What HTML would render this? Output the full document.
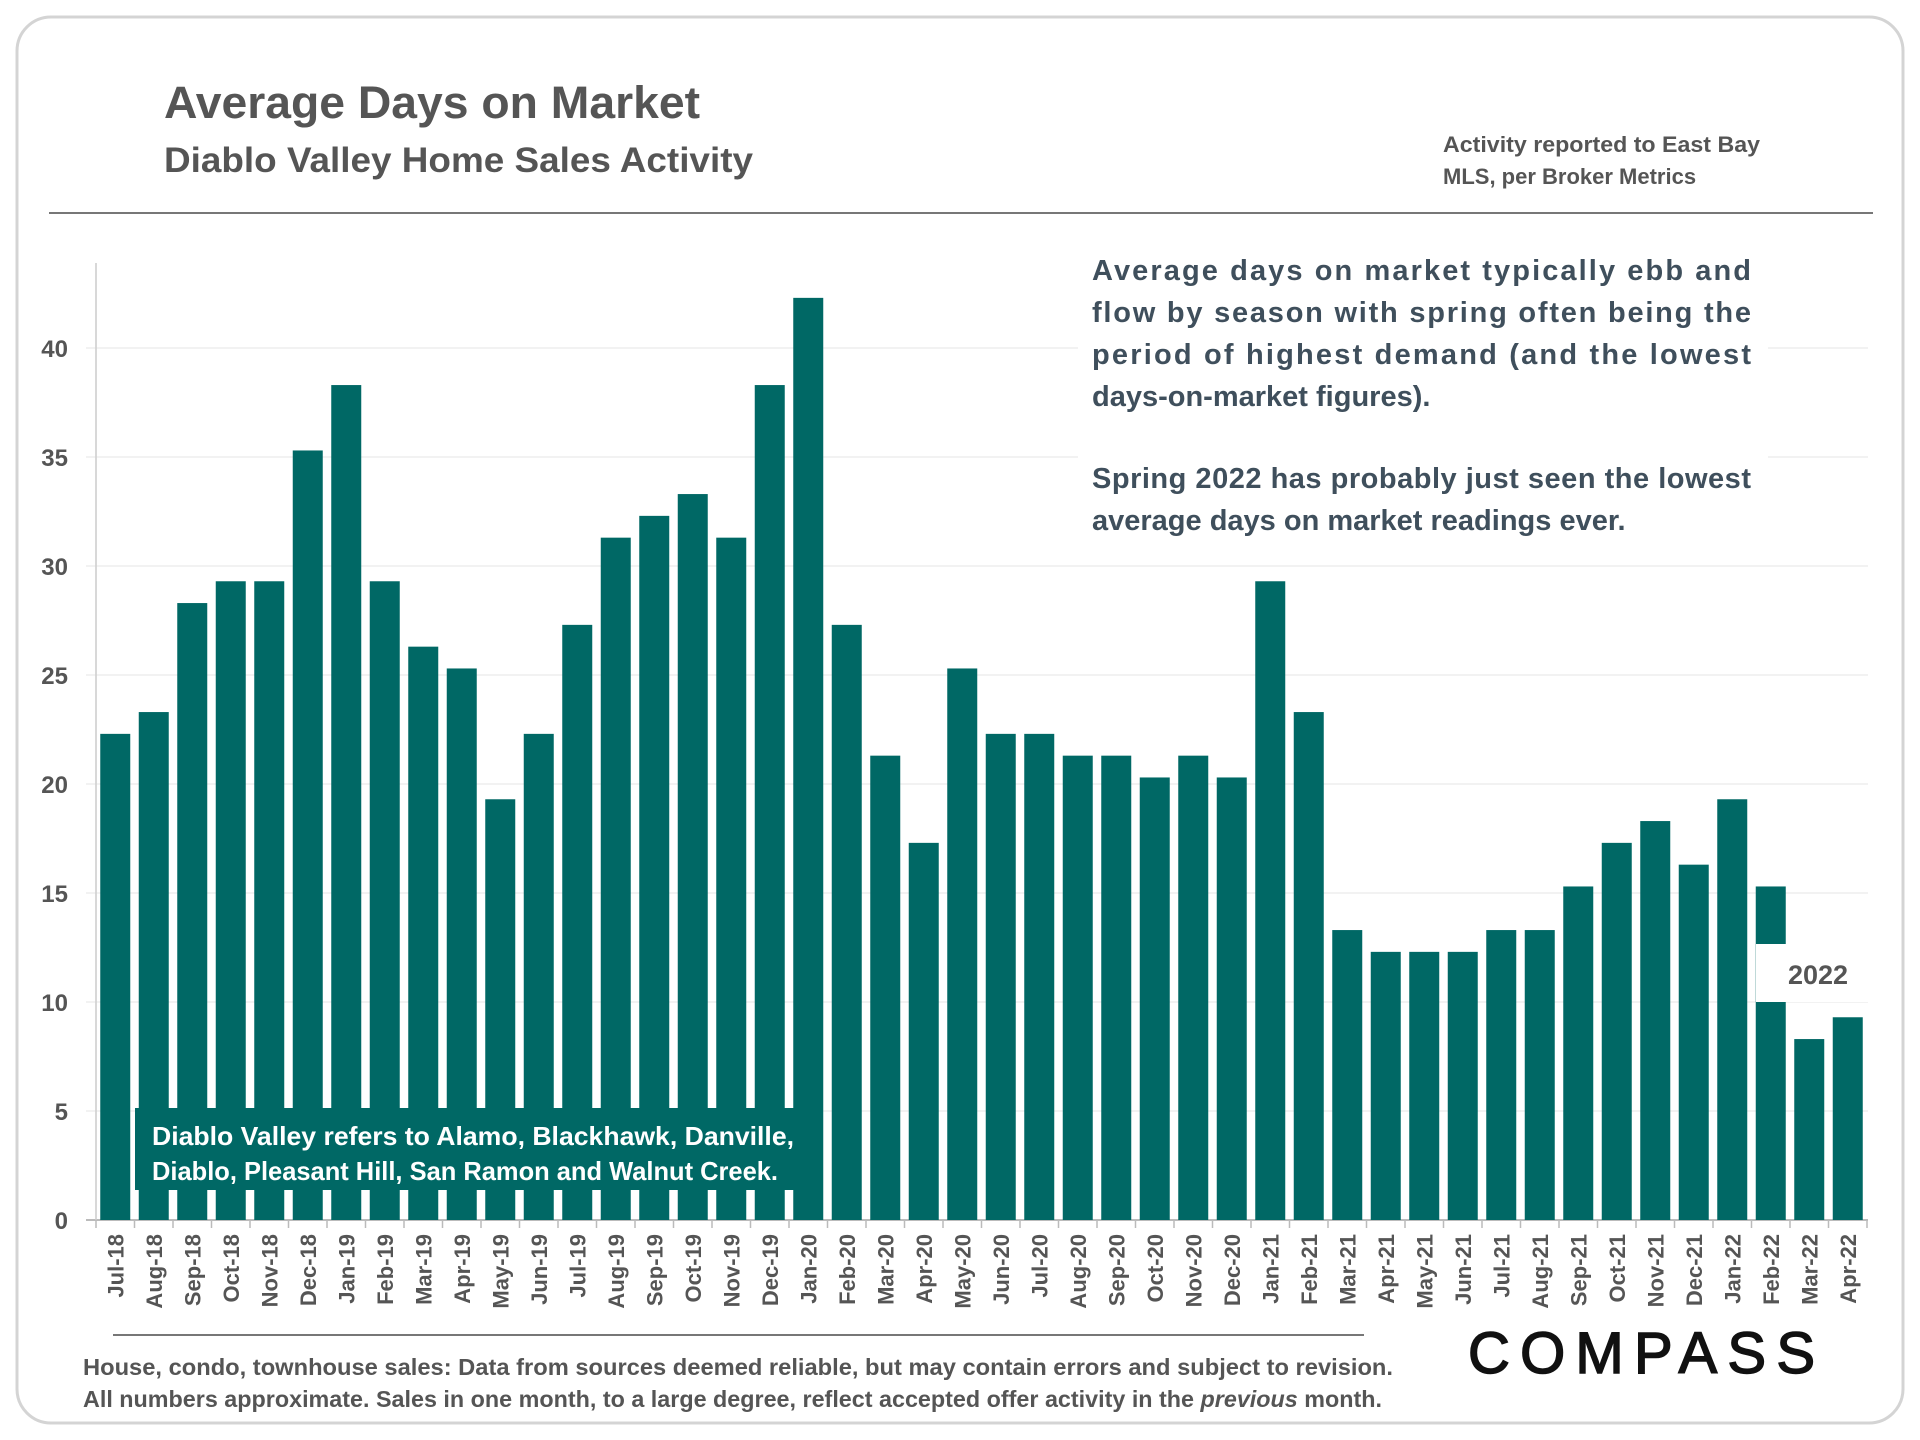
<!DOCTYPE html>
<html><head><meta charset="utf-8"><style>
body{margin:0;width:1920px;height:1440px;background:#fff;font-family:"Liberation Sans",sans-serif;overflow:hidden}
</style></head><body>
<svg width="1920" height="1440" style="position:absolute;left:0;top:0">
<rect x="17" y="17" width="1886" height="1406" rx="34" fill="#fff" stroke="#d4d4d4" stroke-width="3"/>
<text x="164" y="118" font-size="45" font-weight="bold" fill="#555" textLength="536" lengthAdjust="spacingAndGlyphs">Average Days on Market</text>
<text x="164" y="172" font-size="35" font-weight="bold" fill="#555" textLength="589" lengthAdjust="spacingAndGlyphs">Diablo Valley Home Sales Activity</text>
<text x="1443" y="152" font-size="22" font-weight="bold" fill="#555"><tspan x="1443" textLength="317" lengthAdjust="spacingAndGlyphs">Activity reported to East Bay</tspan><tspan x="1443" dy="32">MLS, per Broker Metrics</tspan></text>
<line x1="49" y1="213" x2="1873" y2="213" stroke="#777" stroke-width="2"/>
<g id="grid"></g><g id="bars"></g><g id="xl"></g>
<rect x="1078" y="240" width="690" height="300" fill="#fff"/>
<g font-size="29" font-weight="bold" fill="#3f4f5c">
<text x="1092" y="280" textLength="659" lengthAdjust="spacing">Average days on market typically ebb and</text>
<text x="1092" y="322" textLength="659" lengthAdjust="spacing">flow by season with spring often being the</text>
<text x="1092" y="364" textLength="659" lengthAdjust="spacing">period of highest demand (and the lowest</text>
<text x="1092" y="406">days-on-market figures).</text>
<text x="1092" y="488" textLength="659" lengthAdjust="spacing">Spring 2022 has probably just seen the lowest</text>
<text x="1092" y="530">average days on market readings ever.</text>
</g>
<rect x="135" y="1108" width="668" height="82" fill="#006865"/>
<g font-size="26" font-weight="bold" fill="#fff">
<text x="152" y="1145" textLength="642" lengthAdjust="spacingAndGlyphs">Diablo Valley refers to Alamo, Blackhawk, Danville,</text>
<text x="152" y="1180" textLength="626" lengthAdjust="spacingAndGlyphs">Diablo, Pleasant Hill, San Ramon and Walnut Creek.</text>
</g>
<rect x="1756" y="944" width="112" height="58" fill="#fff"/>
<text x="1788" y="984" font-size="27" font-weight="bold" fill="#555">2022</text>
<line x1="113" y1="1335" x2="1364" y2="1335" stroke="#777" stroke-width="2"/>
<g font-size="23" font-weight="bold" fill="#555">
<text x="83" y="1375" textLength="1310" lengthAdjust="spacingAndGlyphs">House, condo, townhouse sales: Data from sources deemed reliable, but may contain errors and subject to revision.</text>
<text x="83" y="1407" textLength="1299" lengthAdjust="spacingAndGlyphs">All numbers approximate. Sales in one month, to a large degree, reflect accepted offer activity in the <tspan font-style="italic">previous</tspan> month.</text>
</g>
<text x="1468" y="1373" font-size="58" fill="#111" stroke="#111" stroke-width="1.5" textLength="347" lengthAdjust="spacing">COMPASS</text>
</svg>
<script>
const categories=["Jul-18","Aug-18","Sep-18","Oct-18","Nov-18","Dec-18","Jan-19","Feb-19","Mar-19","Apr-19","May-19","Jun-19","Jul-19","Aug-19","Sep-19","Oct-19","Nov-19","Dec-19","Jan-20","Feb-20","Mar-20","Apr-20","May-20","Jun-20","Jul-20","Aug-20","Sep-20","Oct-20","Nov-20","Dec-20","Jan-21","Feb-21","Mar-21","Apr-21","May-21","Jun-21","Jul-21","Aug-21","Sep-21","Oct-21","Nov-21","Dec-21","Jan-22","Feb-22","Mar-22","Apr-22"];
const values=[22.3,23.3,28.3,29.3,29.3,35.3,38.3,29.3,26.3,25.3,19.3,22.3,27.3,31.3,32.3,33.3,31.3,38.3,42.3,27.3,21.3,17.3,25.3,22.3,22.3,21.3,21.3,20.3,21.3,20.3,29.3,23.3,13.3,12.3,12.3,12.3,13.3,13.3,15.3,17.3,18.3,16.3,19.3,15.3,8.3,9.3];
const yTicks=[0,5,10,15,20,25,30,35,40];
const NS="http://www.w3.org/2000/svg";
const x0=96,slot=38.5,bw=30,yBase=1220,pxPer=21.8;
const y=v=>yBase-v*pxPer, xs=i=>x0+i*slot;
function mk(t,a){const e=document.createElementNS(NS,t);for(const k in a)e.setAttribute(k,a[k]);return e;}
const grid=document.getElementById('grid'),bars=document.getElementById('bars'),xl=document.getElementById('xl');
yTicks.forEach(t=>{
 const l=mk('line',{x1:x0-10,x2:1868,y1:y(t),y2:y(t),stroke:t?'#eee':'#bbb','stroke-width':t?1.5:2});
 
 
 grid.appendChild(l);
 const tx=mk('text',{x:68,y:y(t)+9,'text-anchor':'end','font-size':24,'font-weight':'bold',fill:'#555'});
 tx.textContent=t;
 
 
 grid.appendChild(tx);
});
const ax=mk('line',{x1:x0,x2:x0,y1:263,y2:yBase,stroke:'#ccc','stroke-width':1.5});


grid.appendChild(ax);
values.forEach((v,i)=>{
 const r=mk('rect',{x:xs(i)+(slot-bw)/2,y:y(v),width:bw,height:v*pxPer,fill:'#006865'});
 
 
 bars.appendChild(r);
});
categories.forEach((c,i)=>{
 const tk=mk('line',{x1:xs(i),x2:xs(i),y1:yBase,y2:yBase+8,stroke:'#bbb','stroke-width':1.5});
 
 
 xl.appendChild(tk);
 const cx=xs(i)+slot/2+8;
 const t=mk('text',{x:cx,y:1234,'text-anchor':'end','font-size':22,'font-weight':'bold',fill:'#555',transform:`rotate(-90 ${cx} 1234)`});
 t.textContent=c;
 
 
 xl.appendChild(t);
});
const tk=mk('line',{x1:xs(46),x2:xs(46),y1:yBase,y2:yBase+8,stroke:'#bbb','stroke-width':1.5});


xl.appendChild(tk);
</script>
</body></html>
